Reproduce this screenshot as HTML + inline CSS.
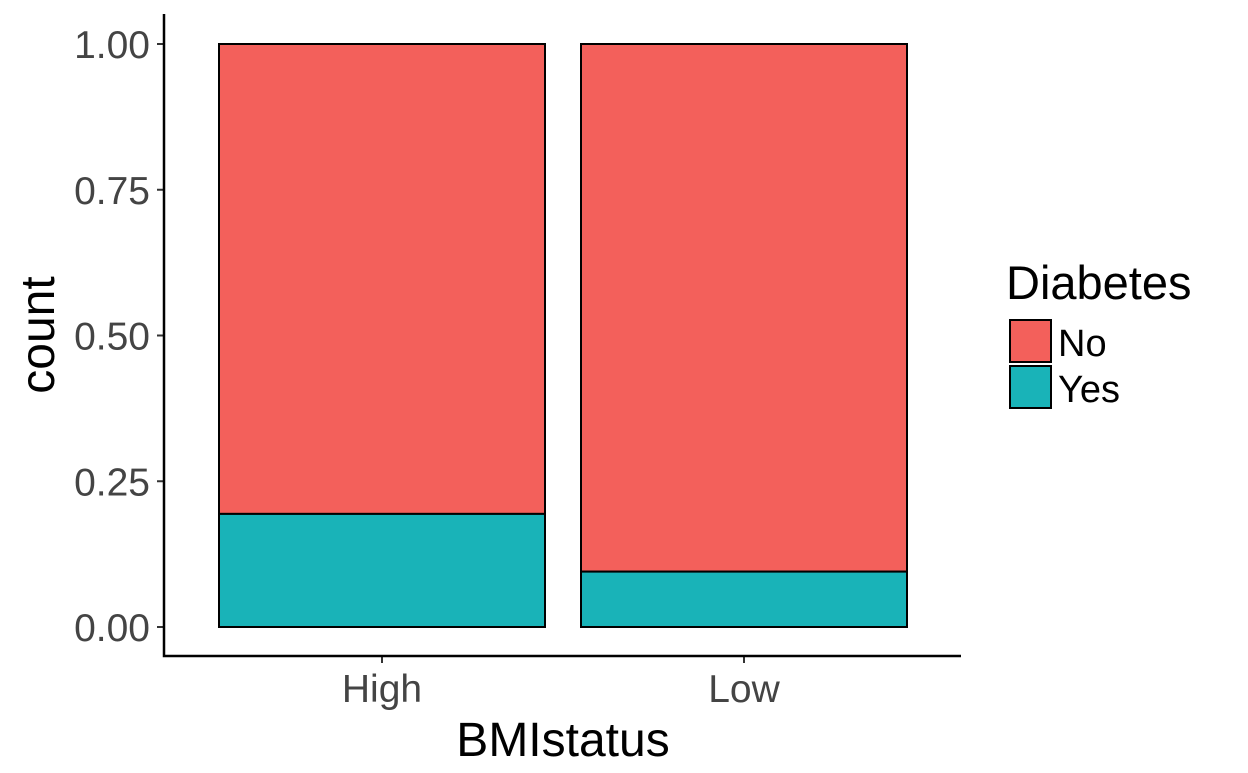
<!DOCTYPE html>
<html><head><meta charset="utf-8"><style>
body{margin:0;background:#fff;width:1248px;height:768px;overflow:hidden}
svg text{font-family:"Liberation Sans",Arial,sans-serif}
</style></head><body>
<svg id="c" width="1248" height="768"></svg>
<script>
const categories=["High","Low"];
const yesVals=[0.194,0.095];
const noVals=[0.806,0.905];
const yTicks=[0,0.25,0.5,0.75,1];
const yTickLabels=["0.00","0.25","0.50","0.75","1.00"];
const svg=document.getElementById('c');
const NS='http://www.w3.org/2000/svg';
function y(v){return 627-v*583;}
function xc(i){return 382+i*362;}
const bw=326;
function el(t,a,p){const e=document.createElementNS(NS,t);for(const k in a)e.setAttribute(k,a[k]);(p||svg).appendChild(e);return e;}
categories.forEach((c,i)=>{
  const r1=el('rect',{x:xc(i)-bw/2,y:y(yesVals[i]+noVals[i]),width:bw,height:y(yesVals[i])-y(yesVals[i]+noVals[i]),fill:'#F3605B',stroke:'#000','stroke-width':2});
  
  
  const r2=el('rect',{x:xc(i)-bw/2,y:y(yesVals[i]),width:bw,height:y(0)-y(yesVals[i]),fill:'#19B3B8',stroke:'#000','stroke-width':2});
  
  
  el('line',{x1:xc(i),x2:xc(i),y1:656,y2:663,stroke:'#333','stroke-width':2});
  const t=el('text',{x:xc(i),y:702,'text-anchor':'middle','font-size':39,fill:'#444'});t.textContent=c;
  
  
});
yTicks.forEach((v,i)=>{
  el('line',{x1:157,x2:164,y1:y(v),y2:y(v),stroke:'#333','stroke-width':2});
  const t=el('text',{x:150,y:y(v)+14,'text-anchor':'end','font-size':39,fill:'#444'});t.textContent=yTickLabels[i];
  
  
});
const ax=el('path',{d:'M164 14 V656 H961',fill:'none',stroke:'#000','stroke-width':2.5});


</script>
<svg style="position:absolute;left:0;top:0" width="1248" height="768">
<text x="563" y="756" text-anchor="middle" font-size="48" fill="#000">BMIstatus</text>
<text transform="translate(54,335) rotate(-90)" text-anchor="middle" font-size="48" fill="#000">count</text>
<g>
<text x="1006" y="299" font-size="47" fill="#000">Diabetes</text>
<rect x="1010" y="320" width="41" height="42" fill="#F3605B" stroke="#000" stroke-width="2"/>
<rect x="1010" y="366" width="41" height="42" fill="#19B3B8" stroke="#000" stroke-width="2"/>
<text x="1058" y="356" font-size="38" fill="#000">No</text>
<text x="1058" y="402" font-size="38" fill="#000">Yes</text>
</g>
</svg>
</body></html>
